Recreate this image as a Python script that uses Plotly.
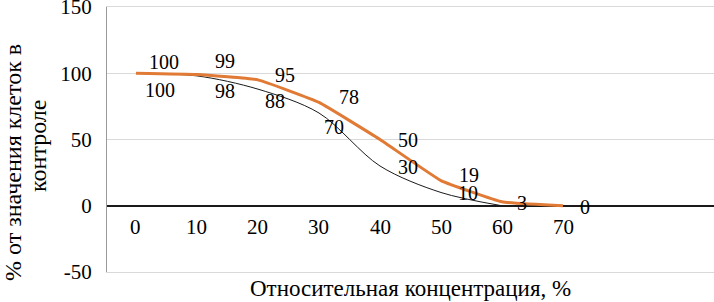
import plotly.graph_objects as go

# data
concentration = [0, 10, 20, 30, 40, 50, 60, 70]
series_orange = [100, 99, 95, 78, 50, 19, 3, 0]
black_conc = [0, 10, 20, 30, 40, 50, 60]
series_black = [100, 98, 88, 70, 30, 10, 0]
x_ticks = [0, 10, 20, 30, 40, 50, 60, 70]
y_ticks = [-50, 0, 50, 100, 150]

FONT = "Liberation Serif"

fig = go.Figure()

fig.add_trace(go.Scatter(
    x=black_conc, y=series_black, mode="lines",
    line=dict(color="#1a1a1a", width=1, shape="spline", smoothing=0.9),
    showlegend=False,
))
fig.add_trace(go.Scatter(
    x=concentration, y=series_orange, mode="lines",
    line=dict(color="#E07A35", width=3, shape="spline", smoothing=0.3),
    showlegend=False,
))

# data labels (offsets in pixels, style only)
orange_off = [(28, 11), (28, 14), (27, 5), (30, 5), (28, 0), (28, 6), (20, -1), (22, -1)]
black_off = [(24, -17), (28, -15), (17, -12), (15, -14), (28, -1), (27, 0)]
for x, y, (dx, dy) in zip(concentration, series_orange, orange_off):
    fig.add_annotation(x=x, y=y, text=str(y), showarrow=False,
                       xshift=dx, yshift=dy, font=dict(size=20))
for x, y, (dx, dy) in zip(black_conc, series_black, black_off):
    fig.add_annotation(x=x, y=y, text=str(y), showarrow=False,
                       xshift=dx, yshift=dy, font=dict(size=20))

# category labels sit under the zero line, like Excel
for t in x_ticks:
    fig.add_annotation(x=t, y=0, text=str(t), showarrow=False, yshift=-21,
                       font=dict(size=21))

fig.add_annotation(
    xref="paper", yref="paper", x=0.5, y=0, yshift=-16, yanchor="middle",
    text="Относительная концентрация, %", showarrow=False, font=dict(size=23),
)
# y title, two lines as in the original
fig.add_annotation(
    xref="paper", yref="paper", x=-0.155, y=0.415, textangle=-90,
    xanchor="center", yanchor="middle",
    text="% от значения клеток в", showarrow=False, font=dict(size=24),
)
fig.add_annotation(
    xref="paper", yref="paper", x=-0.114, y=0.475, textangle=-90,
    xanchor="center", yanchor="middle",
    text="контроле", showarrow=False, font=dict(size=24),
)

fig.update_layout(
    width=714, height=302,
    margin=dict(l=107, r=0, t=7, b=30),
    paper_bgcolor="white", plot_bgcolor="white",
    font=dict(family=FONT, size=21, color="#000"),
    xaxis=dict(range=[-4.75, 94.75], showticklabels=False, showgrid=False,
               zeroline=False, ticks="", automargin=False,
               showline=True, mirror=True, linecolor="#d9d9d9", linewidth=1),
    yaxis=dict(range=[-50, 150], tickvals=y_ticks,
               ticktext=[str(v) for v in y_ticks], showgrid=True,
               gridcolor="#d9d9d9", gridwidth=1, zeroline=True,
               zerolinecolor="#1a1a1a", zerolinewidth=2,
               showline=True, linecolor="#9a9a9a", linewidth=1,
               ticks="", ticklabelstandoff=10, automargin=False,
               ticklabeloverflow="allow"),
)

# drop the default 8px page margin so the figure fills the window
fig.write_html("out.html", config={"displayModeBar": False},
               post_script="document.body.style.margin='0';")
